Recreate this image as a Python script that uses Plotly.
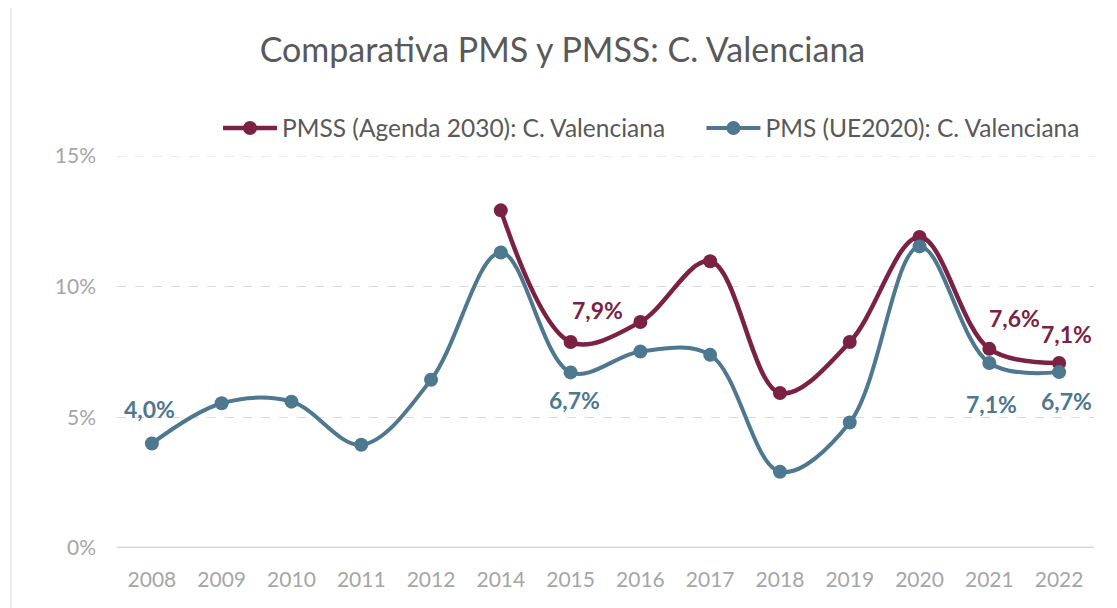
import plotly.graph_objects as go

years = ["2008", "2009", "2010", "2011", "2012", "2014", "2015", "2016",
         "2017", "2018", "2019", "2020", "2021", "2022"]
pms = [4.0, 5.54, 5.6, 3.95, 6.44, 11.31, 6.72, 7.52, 7.39, 2.92, 4.80, 11.54, 7.08, 6.73]
pmss = [None, None, None, None, None, 12.92, 7.88, 8.65, 10.97, 5.93, 7.88, 11.9, 7.62, 7.08]
y_ticks = [0, 5, 10, 15]
y_tick_labels = ["0%", "5%", "10%", "15%"]

RED = "#7B2144"
BLUE = "#4E7790"
FONT = "Lato"

xi = list(range(len(years)))

fig = go.Figure()
fig.add_trace(go.Scatter(
    x=xi, y=pmss, mode="lines+markers",
    name="PMSS (Agenda 2030): C. Valenciana" + "&nbsp;" * 5,
    line=dict(color=RED, width=4.5, shape="spline", smoothing=1),
    marker=dict(color=RED, size=14)))
fig.add_trace(go.Scatter(
    x=xi, y=pms, mode="lines+markers",
    name="PMS (UE2020): C. Valenciana",
    line=dict(color=BLUE, width=4, shape="spline", smoothing=1),
    marker=dict(color=BLUE, size=14)))

def fmt(v):
    return f"{v:.1f}".replace(".", ",") + "%"

# data labels: (series, index, xshift, yshift, colour)
labels = [
    (pms, 0, -2, 34, BLUE),
    (pms, 6, 4, -28, BLUE),
    (pms, 12, 2, -41, BLUE),
    (pms, 13, 7, -29, BLUE),
    (pmss, 6, 27, 32, RED),
    (pmss, 12, 25, 31, RED),
    (pmss, 13, 7, 29, RED),
]
for series, i, xs, ys, col in labels:
    fig.add_annotation(x=xi[i], y=series[i], text=fmt(series[i]),
                       showarrow=False, xshift=xs, yshift=ys,
                       font=dict(family=FONT, size=23, color=col, weight="bold"))

fig.update_layout(
    width=1117, height=608,
    paper_bgcolor="white", plot_bgcolor="white",
    margin=dict(l=109, r=31, t=148, b=68, autoexpand=False),
    title=dict(text="Comparativa PMS y PMSS: C. Valenciana",
               x=0.4964, xanchor="center", y=0.931, yanchor="middle",
               font=dict(family=FONT, size=34, color="#595959")),
    legend=dict(orientation="h", x=0.1034, xanchor="left", y=1.0714, yanchor="middle",
                font=dict(family=FONT, size=24.5, color="#595959"),
                itemwidth=54, bgcolor="rgba(0,0,0,0)"),
    showlegend=True,
    xaxis=dict(range=[-0.5, len(years) - 0.5], tickvals=xi, ticktext=years,
               showgrid=False, showline=False, zeroline=False, automargin=False,
               ticks="", ticklabelstandoff=17,
               tickfont=dict(family=FONT, size=21, color="#A6A6A6")),
    yaxis=dict(range=[0, 15], tickvals=y_ticks, ticktext=y_tick_labels,
               showgrid=True, gridcolor="#D9D9D9", griddash="dash", gridwidth=1,
               zeroline=False, showline=False, ticks="", automargin=False,
               ticklabelstandoff=20,
               tickfont=dict(family=FONT, size=21, color="#A6A6A6")),
    shapes=[
        dict(type="line", xref="paper", yref="y", x0=0, x1=1, y0=0, y1=0,
             line=dict(color="#D9D9D9", width=3), layer="below"),
        dict(type="line", xref="paper", yref="y", x0=0, x1=1,
             y0=y_ticks[-1], y1=y_ticks[-1],
             line=dict(color="#D9D9D9", width=1, dash="dash"), layer="below"),
        dict(type="rect", xref="paper", yref="paper", x0=-0.1085, x1=1.1, y0=-0.3, y1=1.6,
             line=dict(color="#D9D9D9", width=1), layer="below"),
    ],
)
fig.write_html("out.html")
